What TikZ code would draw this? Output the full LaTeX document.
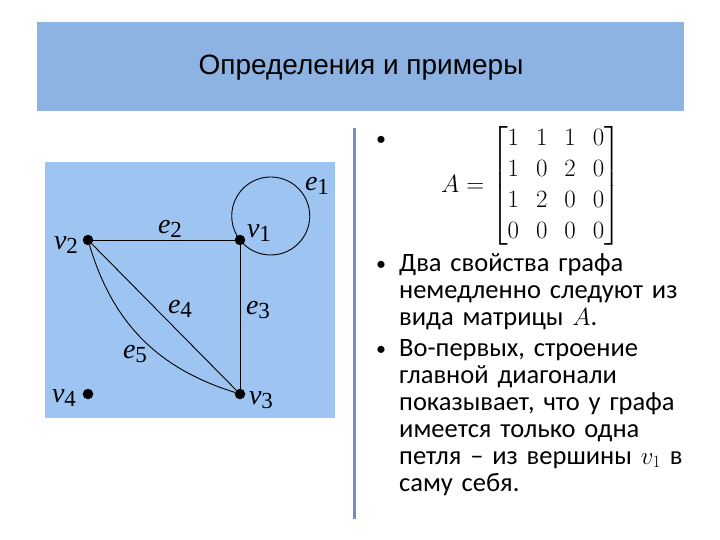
\documentclass[tikz,border=0pt]{standalone}
\usepackage{amsmath}
\usepackage{fontspec}
\setmainfont{Carlito}
\newfontfamily\titlefont{Liberation Sans}
\newfontfamily\graphfont{Liberation Serif}
\usetikzlibrary{positioning}
\definecolor{titleblue}{RGB}{141,179,226}
\definecolor{panelblue}{RGB}{158,196,242}
\definecolor{barblue}{RGB}{111,145,196}
% letter with index, as in the graph
\newcommand{\glab}[2]{{\graphfont\itshape #1}\raisebox{-0.3ex}{\fontsize{23}{23}\graphfont\upshape #2}}

\begin{document}
\begin{tikzpicture}[x=1pt,y=-1pt,
  vertex/.style={circle,fill=black,inner sep=0pt,minimum size=10.5pt},
  edge/.style={line width=0.9pt},
  glabel/.style={font=\fontsize{28}{28}\graphfont,inner sep=0pt},
  body/.style={font=\fontsize{26.5}{27}\selectfont,align=left,text width=320pt,inner sep=0pt,anchor=base west},
  bullet/.style={font=\fontsize{20}{20}\selectfont,inner sep=0pt,anchor=base}]
\useasboundingbox (0,0) rectangle (720,540);
\fill[white] (0,0) rectangle (720,540);
% title
\fill[titleblue] (37,22) rectangle (684,111);
\node[font=\fontsize{28}{28}\titlefont] (title) at (361,68) {Определения и примеры};
% graph
\fill[panelblue] (45,162) rectangle (335,418);
\node[vertex] (v1) at (240,240) {};
\node[vertex] (v2) at (88,240) {};
\node[vertex] (v3) at (240,394) {};
\node[vertex] (v4) at (88,394) {};
\draw[edge] (v2) -- (v1);
\draw[edge] (v1) -- (v3);
\draw[edge] (v2) -- (v3);
\draw[edge] (v2) to[bend right=28] (v3);
\draw[edge] (v1.center) arc[start angle=218,delta angle=360,radius=39pt];
\node[glabel] (lv1) at (259,233) {\glab{v}{1}};
\node[glabel] (lv2) at (66,245) {\glab{v}{2}};
\node[glabel] (lv3) at (261,400) {\glab{v}{3}};
\node[glabel] (lv4) at (64,398) {\glab{v}{4}};
\node[glabel] (le1) at (317,186) {\glab{e}{1}};
\node[glabel] (le2) at (170,229) {\glab{e}{2}};
\node[glabel] (le3) at (258,310) {\glab{e}{3}};
\node[glabel] (le4) at (180,309) {\glab{e}{4}};
\node[glabel] (le5) at (135,354) {\glab{e}{5}};
% separator
\draw[barblue,line width=3pt] (354,128) -- (354,519);
% matrix
\node[bullet] (b0) at (381,146) {•};
\node[font=\fontsize{27}{31}\selectfont,inner sep=0pt] (mat) at (531,186)
  {$\arraycolsep=8.5pt A=\begin{bmatrix}1&1&1&0\\1&0&2&0\\1&2&0&0\\0&0&0&0\end{bmatrix}$};
% text
\node[bullet] (b1) at (381,270) {•};
\node[body] (p1) at (399,271) {Два свойства графа\\немедленно следуют из\\вида матрицы $A$.};
\node[bullet] (b2) at (381,355) {•};
\node[body] (p2) at (399,356) {Во-первых, строение\\главной диагонали\\показывает, что у графа\\имеется только одна\\петля – из вершины $v_1$ в\\саму себя.};
\end{tikzpicture}
\end{document}
